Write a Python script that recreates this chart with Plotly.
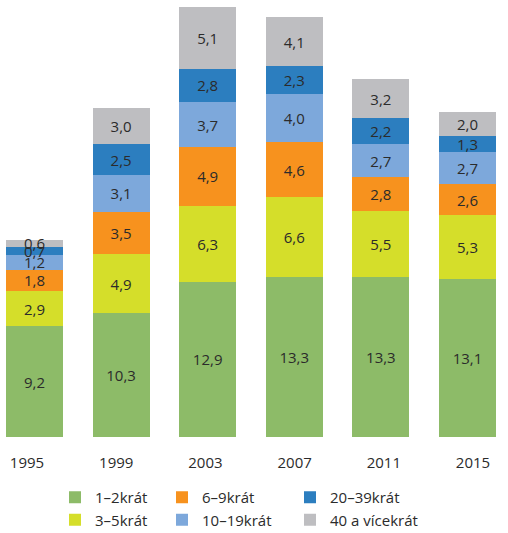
import plotly.graph_objects as go

years = ["1995", "1999", "2003", "2007", "2011", "2015"]
s_1_2 = [9.2, 10.3, 12.9, 13.3, 13.3, 13.1]
s_3_5 = [2.9, 4.9, 6.3, 6.6, 5.5, 5.3]
s_6_9 = [1.8, 3.5, 4.9, 4.6, 2.8, 2.6]
s_10_19 = [1.2, 3.1, 3.7, 4.0, 2.7, 2.7]
s_20_39 = [0.7, 2.5, 2.8, 2.3, 2.2, 1.3]
s_40 = [0.6, 3.0, 5.1, 4.1, 3.2, 2.0]

series = [
    ("1–2krát", s_1_2, "#8DBB68", "legend"),
    ("3–5krát", s_3_5, "#D5DE2A", "legend"),
    ("6–9krát", s_6_9, "#F7921E", "legend2"),
    ("10–19krát", s_10_19, "#7DA8DB", "legend2"),
    ("20–39krát", s_20_39, "#2C7EBF", "legend3"),
    ("40 a vícekrát", s_40, "#BEBEC1", "legend3"),
]

TXT = "#2b2b2b"
FONT = "Open Sans"

fig = go.Figure()
for name, vals, color, leg in series:
    fig.add_trace(go.Bar(
        x=years, y=vals, name=name,
        marker=dict(color=color, line=dict(width=0)),
        text=[f"{v:.1f}".replace(".", ",") for v in vals],
        textposition="inside", insidetextanchor="middle",
        constraintext="none",
        textfont=dict(color=TXT, size=15, family=FONT),
        legend=leg, legendgroup=name,
        hoverinfo="skip",
    ))

# carrier for the year-label axis (no visible marks)
fig.add_trace(go.Scatter(
    x=list(range(len(years))), y=[None] * len(years), xaxis="x2",
    mode="markers", showlegend=False, hoverinfo="skip",
))

leg_common = dict(orientation="v", xref="container", yref="container",
                  yanchor="top", xanchor="left", tracegroupgap=6.5,
                  font=dict(size=15, color=TXT, family=FONT),
                  bgcolor="rgba(0,0,0,0)", borderwidth=0,
                  traceorder="normal",
                  itemclick=False, itemdoubleclick=False)
ytop = 1 - 481 / 533

fig.update_layout(
    barmode="stack",
    bargap=0.342,
    width=508, height=533,
    margin=dict(l=0, r=0, t=0, b=96, autoexpand=False),
    paper_bgcolor="white", plot_bgcolor="white",
    font=dict(family=FONT, color=TXT, size=15),
    xaxis=dict(type="category", range=[-0.398, 5.468], showline=False,
               showticklabels=False, ticks="", showgrid=False, zeroline=False),
    xaxis2=dict(overlaying="x", anchor="y", side="bottom", type="linear",
                range=[-0.303, 5.392], tickmode="array",
                tickvals=list(range(len(years))),
                ticktext=years, showline=False, showgrid=False, zeroline=False,
                ticks="outside", ticklen=12, tickcolor="rgba(0,0,0,0)",
                tickfont=dict(size=15, color=TXT, family=FONT)),
    yaxis=dict(range=[0, 36.3], visible=False, showgrid=False),
    showlegend=True,
    legend=dict(leg_common, x=55 / 508, y=ytop),
    legend2=dict(leg_common, x=162 / 508, y=ytop),
    legend3=dict(leg_common, x=290 / 508, y=ytop),
)

fig.write_html("out.html", config={"displayModeBar": False},
               post_script="document.body.style.margin='0';")
